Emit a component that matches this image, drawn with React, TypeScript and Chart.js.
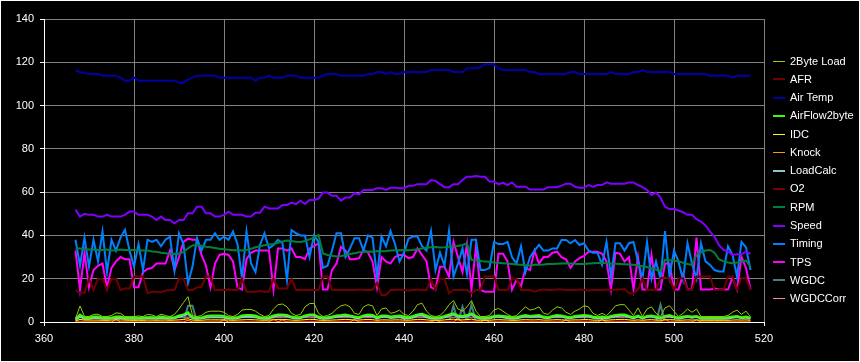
import React, { useEffect, useRef } from "react";
import { Chart, registerables } from "chart.js";

Chart.register(...registerables);

const seconds = [
  367, 368, 369, 370, 371, 372, 373, 374, 375, 376,
  377, 378, 379, 380, 381, 382, 383, 384, 385, 386,
  387, 388, 389, 390, 391, 392, 393, 394, 395, 396,
  397, 398, 399, 400, 401, 402, 403, 404, 405, 406,
  407, 408, 409, 410, 411, 412, 413, 414, 415, 416,
  417, 418, 419, 420, 421, 422, 423, 424, 425, 426,
  427, 428, 429, 430, 431, 432, 433, 434, 435, 436,
  437, 438, 439, 440, 441, 442, 443, 444, 445, 446,
  447, 448, 449, 450, 451, 452, 453, 454, 455, 456,
  457, 458, 459, 460, 461, 462, 463, 464, 465, 466,
  467, 468, 469, 470, 471, 472, 473, 474, 475, 476,
  477, 478, 479, 480, 481, 482, 483, 484, 485, 486,
  487, 488, 489, 490, 491, 492, 493, 494, 495, 496,
  497, 498, 499, 500, 501, 502, 503, 504, 505, 506,
  507, 508, 509, 510, 511, 512, 513, 514, 515, 516,
  517,
];

const load2Byte = [
  1.5, 7.4, 2.5, 2.5, 3.5, 3.6, 2.5, 2.5, 3, 4.2,
  4, 2.5, 2.5, 2.5, 2.8, 2.5, 3.5, 3.2, 2.5, 3.6,
  3, 2.5, 3.5, 6, 9, 11.7, 3, 2.5, 3, 4.5,
  5, 5, 5, 4.5, 3, 2.5, 3.5, 5.5, 5.8, 5.8,
  5, 3.5, 2.5, 3, 6, 8, 8.3, 7, 4, 3,
  3.5, 7, 8.5, 8.6, 4, 2.5, 3, 4, 6, 7.5,
  8, 7, 4, 3.5, 7, 8, 7.5, 3, 6, 6.5,
  4, 4.5, 5.5, 3.5, 3, 5, 8, 8.7, 5, 3,
  2.5, 3, 5, 8, 9.9, 6, 5, 7, 9.9, 5,
  2.5, 2.5, 3, 5.5, 6.3, 5, 3.5, 2.5, 3, 5,
  7, 5.5, 6, 7, 4, 3.5, 5.5, 7, 6.5, 4.5,
  3.5, 5, 6, 7.5, 7, 4, 3, 4, 3, 5,
  7.5, 8, 8, 5.5, 3, 6.5, 2.5, 6, 7, 4,
  2.5, 6.5, 7.5, 5, 2.5, 4, 6, 4.5, 6, 2.5,
  2.5, 2.5, 2.5, 2.5, 2.5, 3, 4.5, 5.5, 3.5, 5,
  2.5,
];

const afr = [
  14.5, 13.5, 13.5, 20, 14.8, 20, 20, 14.8, 20, 20,
  14.8, 15.5, 15.5, 21, 21, 21, 13.3, 14, 14, 13.8,
  14.5, 14.8, 14.8, 20, 20, 14.8, 14.8, 16, 16.3, 21,
  21, 14.8, 14.8, 14.8, 15, 14.8, 14.8, 20, 14, 14,
  14, 14.3, 14, 14, 20, 15.5, 15.5, 15.5, 20, 14.8,
  14.8, 14.8, 14.8, 14.8, 14.8, 21, 21, 14.8, 14.8, 14.8,
  14.8, 14.8, 14.8, 15, 14.8, 14.8, 14.8, 18, 12.5, 12.5,
  14.8, 14.8, 15, 14.8, 14.6, 14.8, 15, 14.8, 14.8, 20,
  14.8, 20, 20, 13.3, 14.8, 14.8, 14.8, 14.8, 13.3, 14.8,
  14.8, 21, 21, 21, 14.8, 14.8, 14.8, 20, 20, 14.8,
  14.8, 14.8, 14, 14.8, 15, 14.8, 14.8, 15, 15, 14.8,
  14.8, 14.8, 15, 14.8, 14.6, 14.8, 14.8, 14.8, 15, 14.8,
  15, 15, 15.2, 13.3, 13.3, 15, 20.2, 14.8, 14.8, 14.8,
  20.2, 20.5, 20, 14.8, 20.2, 20.2, 14.8, 14.8, 21, 21,
  21, 21, 14.8, 14.8, 14.8, 21, 21, 14.8, 20.2, 20.2,
  14.8,
];

const airTemp = [
  116.4, 115.5, 115, 114.6, 114.6, 114.6, 113.8, 113.8, 113.8, 113.8,
  112.9, 111.5, 111.5, 112.9, 111.5, 111.5, 111.5, 111.5, 111.5, 111.5,
  111.5, 111.5, 111.5, 110.6, 110.6, 112, 112.9, 113.8, 113.8, 113.8,
  113.8, 113.8, 112.9, 112.9, 112.9, 112.9, 112.9, 112.9, 112.9, 112.9,
  111.5, 112.9, 112.9, 113.8, 112.9, 112.9, 112.9, 113.8, 113.8, 113.8,
  112.9, 112.9, 112.9, 112.9, 112.9, 113.8, 114.6, 114.6, 114.6, 113.8,
  113.8, 113.8, 113.8, 113.8, 113.8, 114.6, 114.6, 115.5, 115.5, 114.6,
  115.5, 114.6, 114.6, 115.5, 115.5, 115.5, 115.5, 115.5, 115.5, 116.4,
  116.4, 116.4, 116.4, 116.4, 115.5, 115.5, 115.5, 117.2, 117.2, 117.2,
  117.7, 119.1, 119.1, 119.1, 117.2, 116.4, 116.4, 116.4, 116.4, 116.4,
  116.4, 115.5, 115.5, 114.6, 114.6, 114.6, 114.6, 114.6, 114.6, 114.6,
  115.5, 115.5, 114.6, 114.6, 114.6, 114.6, 114.6, 114.6, 114.6, 115.5,
  114.6, 114.6, 114.6, 114.6, 115.5, 115.5, 116.4, 115.5, 115.5, 115.5,
  115.5, 115.5, 115.5, 114.6, 114.6, 114.6, 114.6, 114.6, 114.6, 114.6,
  114.6, 113.8, 113.8, 113.8, 113.8, 113.8, 113, 113.8, 113.8, 113.8,
  113.8,
];

const airFlow2Byte = [
  1.5, 3.5, 2, 2, 2.5, 2.5, 2, 2, 2, 2.5,
  2.5, 2, 2, 2, 2, 2, 2.2, 2.2, 2, 2.5,
  2.2, 2, 2.2, 3, 3.5, 4.5, 2.2, 2, 2, 2.8,
  3, 3, 3, 2.8, 2.2, 2, 2.2, 3, 3.2, 3.2,
  3, 2.2, 2, 2.2, 3, 3.5, 3.5, 3.2, 2.5, 2.2,
  2.2, 3, 3.5, 3.5, 2.5, 2, 2.2, 2.5, 3, 3.2,
  3.5, 3, 2.5, 2.2, 3, 3.5, 3.2, 2.2, 3, 3,
  2.5, 2.8, 3, 2.5, 2.2, 2.8, 3.5, 3.8, 3, 2.2,
  2, 2.2, 2.8, 3.5, 4, 3, 2.8, 3.2, 4, 2.8,
  2, 2, 2.2, 2.8, 3, 2.8, 2.5, 2, 2.2, 2.8,
  3.2, 2.8, 3, 3.2, 2.5, 2.2, 2.8, 3.2, 3, 2.5,
  2.2, 2.8, 3, 3.2, 3, 2.5, 2.2, 2.5, 2.2, 2.8,
  3.2, 3.5, 3.5, 2.8, 2.2, 3, 2, 2.8, 3, 2.5,
  2, 2.8, 3.2, 2.5, 2, 2.5, 2.8, 2.5, 2.8, 2,
  2, 2, 2, 2, 2, 2.2, 2.5, 2.8, 2.2, 2.5,
  2,
];

const idc = [
  0.5, 1.2, 0.9, 0.9, 0.9, 0.9, 0.8, 0.8, 0.9, 1,
  1, 0.9, 0.8, 0.8, 0.8, 0.8, 0.9, 0.9, 0.8, 0.9,
  0.9, 0.8, 0.9, 1, 1.2, 1.5, 0.9, 0.8, 0.8, 1,
  1, 1, 1, 1, 0.9, 0.8, 0.9, 1, 1.1, 1.1,
  1, 0.9, 0.8, 0.9, 1, 1.2, 1.2, 1.1, 0.9, 0.8,
  0.9, 1.1, 1.2, 1.2, 0.9, 0.8, 0.8, 0.9, 1, 1.1,
  1.2, 1.1, 0.9, 0.9, 1.1, 1.2, 1.1, 0.8, 1, 1,
  0.9, 1, 1, 0.9, 0.8, 1, 1.2, 1.2, 1, 0.8,
  0.8, 0.8, 1, 1.2, 1.3, 1, 1, 1.1, 1.3, 0.9,
  0.8, 0.8, 0.8, 1, 1.1, 1, 0.9, 0.8, 0.8, 1,
  1.1, 1, 1, 1.1, 0.9, 0.9, 1, 1.1, 1, 0.9,
  0.9, 1, 1, 1.1, 1.1, 0.9, 0.8, 0.9, 0.8, 1,
  1.1, 1.2, 1.2, 1, 0.8, 1, 0.8, 1, 1.1, 0.9,
  0.8, 1, 1.1, 1, 0.8, 0.9, 1, 0.9, 1, 0.8,
  0.8, 0.8, 0.8, 0.8, 0.8, 0.8, 0.9, 1, 0.9, 1,
  0.8,
];

const knock = [
  0, 0, 0, 0, 0, 0, 0, 0, 0, 1.2,
  0, 0, 0, 0, 0, 0, 0, 0, 0, 0,
  0, 0, 0, 0, 0, 0.8, 0, 0, 0, 0,
  0, 0, 0, 1, 0, 0, 0, 0, 0, 0,
  0, 0, 0, 0, 1.5, 0, 1, 0, 0, 0,
  0, 0, 0, 0, 0, 0, 0, 0, 0, 0,
  0, 0, 1.2, 0, 0, 0, 0, 0, 0, 0,
  0, 0, 0, 0, 0, 0, 0, 0, 0, 0,
  1, 0, 0, 0, 0, 1.5, 0, 0, 0, 0,
  0, 1, 0, 0, 0, 0, 0, 0, 0, 0,
  0, 0, 0, 0, 0, 0, 0, 0, 0, 1,
  0, 0, 0, 0, 0, 0, 0, 1.2, 0, 0,
  0, 0, 0, 0, 0, 0, 0, 0, 0, 0,
  0, 1.5, 0, 0, 0, 0, 0, 0, 1, 0,
  0, 0, 0, 0, 0, 0, 0, 0, 0, 0,
  0,
];

const loadCalc = [
  1, 2.5, 1.5, 1.5, 1.8, 1.8, 1.5, 1.5, 1.6, 1.9,
  1.9, 1.5, 1.5, 1.5, 1.6, 1.5, 1.7, 1.7, 1.5, 1.8,
  1.6, 1.5, 1.7, 2.4, 3, 3.8, 1.7, 1.5, 1.6, 2.1,
  2.2, 2.2, 2.2, 2.1, 1.6, 1.5, 1.7, 2.3, 2.4, 2.4,
  2.2, 1.7, 1.5, 1.6, 2.4, 2.9, 3, 2.7, 1.9, 1.6,
  1.7, 2.6, 3, 3, 1.9, 1.5, 1.6, 1.9, 2.4, 2.7,
  2.9, 2.6, 1.9, 1.7, 2.6, 2.9, 2.7, 1.6, 2.4, 2.5,
  1.9, 2.1, 2.3, 1.7, 1.6, 2.1, 2.9, 3.1, 2.2, 1.6,
  1.5, 1.6, 2.2, 2.9, 3.4, 2.4, 2.2, 2.6, 3.4, 2.2,
  1.5, 1.5, 1.6, 2.3, 2.5, 2.2, 1.7, 1.5, 1.6, 2.2,
  2.6, 2.3, 2.4, 2.6, 1.9, 1.7, 2.3, 2.6, 2.5, 2,
  1.7, 2.2, 2.4, 2.7, 2.6, 1.9, 1.6, 1.9, 1.6, 2.2,
  2.7, 2.9, 2.9, 2.3, 1.6, 2.5, 1.5, 2.4, 2.6, 1.9,
  1.5, 2.5, 2.7, 2.2, 1.5, 1.9, 2.4, 2, 2.4, 1.5,
  1.5, 1.5, 1.5, 1.5, 1.5, 1.6, 2, 2.3, 1.7, 2.1,
  1.5,
];

const o2 = [
  0.3, 0.5, 0.4, 0.4, 0.5, 0.4, 0.4, 0.5, 0.4, 0.4,
  0.5, 0.4, 0.4, 0.4, 0.4, 0.5, 0.4, 0.4, 0.4, 0.4,
  0.4, 0.4, 0.5, 0.4, 0.6, 0.8, 0.5, 0.4, 0.4, 0.4,
  0.4, 0.4, 0.5, 0.4, 0.4, 0.4, 0.4, 0.5, 0.4, 0.4,
  0.4, 0.4, 0.4, 0.4, 0.5, 0.6, 0.6, 0.5, 0.4, 0.4,
  0.4, 0.5, 0.6, 0.6, 0.4, 0.4, 0.4, 0.4, 0.5, 0.5,
  0.6, 0.5, 0.4, 0.4, 0.5, 0.6, 0.5, 0.4, 0.5, 0.5,
  0.4, 0.4, 0.5, 0.4, 0.4, 0.5, 0.6, 0.6, 0.5, 0.4,
  0.4, 0.4, 0.5, 0.6, 0.7, 0.5, 0.5, 0.6, 0.7, 0.4,
  0.4, 0.4, 0.4, 0.5, 0.5, 0.5, 0.4, 0.4, 0.4, 0.5,
  0.5, 0.5, 0.5, 0.5, 0.4, 0.4, 0.5, 0.5, 0.5, 0.4,
  0.4, 0.5, 0.5, 0.6, 0.5, 0.4, 0.4, 0.4, 0.4, 0.5,
  0.5, 0.6, 0.6, 0.5, 0.4, 0.5, 0.4, 0.5, 0.5, 0.4,
  0.4, 0.5, 0.6, 0.5, 0.4, 0.4, 0.5, 0.4, 0.5, 0.4,
  0.4, 0.4, 0.4, 0.4, 0.4, 0.4, 0.4, 0.5, 0.4, 0.5,
  0.4,
];

const rpm = [
  34, 34, 33.6, 33.5, 33.5, 33.3, 33.3, 33.5, 33, 33.2,
  33.5, 33.3, 33.3, 33.3, 33.2, 33, 33, 32.6, 32.5, 32,
  31.8, 31.5, 31.4, 31.5, 32.4, 34, 35.4, 35.6, 35.2, 34.8,
  34.5, 34.2, 33.8, 33.6, 33.4, 33.2, 33.2, 33, 33.3, 33.8,
  34.5, 35, 35.5, 35.8, 36, 36.6, 37.2, 37.6, 37.4, 37.1,
  37, 37.4, 38.2, 39, 40.2, 31.7, 31, 30.6, 30.3, 30.5,
  31, 31.4, 31.8, 32.2, 32.5, 32.6, 32.5, 32.8, 32.7, 32.8,
  33, 33.1, 33.2, 33.3, 33.2, 33.3, 33.6, 34, 34.3, 34.5,
  34.6, 34.4, 34.5, 34.8, 35, 35.1, 35.6, 36.4, 28.7, 28.5,
  28.2, 27.9, 27.8, 27.5, 27.4, 27.2, 27, 26.8, 26.6, 26.4,
  26.2, 26, 26.4, 26.5, 26.6, 26.8, 26.8, 26.9, 27, 27.1,
  27, 26.9, 26.8, 26.8, 27, 27.2, 27.3, 27.4, 27.2, 27,
  26.9, 26.8, 26.7, 26.6, 26.4, 26.2, 25.8, 25.4, 24.8, 24.2,
  23.4, 28.7, 28.5, 28.3, 28, 27.4, 26.8, 26.4, 31, 32.2,
  33, 33.3, 32, 29, 28, 27.5, 27.1, 27.5, 28, 28.4,
  25.3,
];

const speed = [
  52, 48.7, 50, 49.5, 49.5, 48.7, 48.7, 49.5, 48.7, 48.7,
  48.7, 49.5, 51, 51, 49.5, 49.5, 49.5, 48.7, 47.1, 48.7,
  47.1, 47.1, 45.6, 47.1, 47.1, 50.2, 50.2, 53.3, 53.3, 50.2,
  50.2, 48.7, 48.7, 49.5, 51, 49.5, 49.5, 49.5, 48.7, 48.7,
  50.5, 50.5, 53.3, 52.5, 52.5, 52.5, 54.1, 54.1, 55.2, 54.5,
  56, 54.5, 56.4, 56.4, 57, 59.8, 59.8, 58.3, 58.3, 56.1,
  57.5, 57.5, 59.5, 59, 61, 61, 61, 61.8, 61.8, 61,
  62, 62, 61.8, 61.8, 62.9, 62.9, 63.7, 63.7, 63.7, 65.6,
  65.2, 63.7, 62.3, 62.3, 63.7, 63.7, 65.6, 67.1, 67.1, 67.5,
  67.1, 67.1, 64.9, 64.9, 63.7, 64.3, 63.3, 64.5, 62.5, 62.5,
  62.5, 61.2, 61.2, 61.2, 61.2, 62.3, 62.3, 62.3, 63, 63.9,
  63.9, 62.5, 62, 62, 63.3, 62.5, 63.3, 63.3, 64.5, 63.9,
  63.9, 63.9, 63.9, 64.5, 64.5, 63.3, 62.3, 61, 58.7, 59.8,
  57.5, 53.3, 52.2, 52.2, 51.5, 50.7, 49.5, 49.5, 47.5, 46.4,
  44.6, 41.8, 39.4, 35.5, 33.3, 32.5, 31, 31.3, 31.3, 32.5,
  31.5,
];

const timing = [
  38, 26, 39, 25.6, 38, 28, 41.8, 23, 38, 33,
  39, 42.5, 33, 25.6, 36, 24, 38, 37, 38, 35,
  38, 39.4, 24, 41, 36, 17.9, 25.6, 38.7, 33, 38,
  38, 41, 38, 39.4, 38, 41.8, 36, 20.2, 41.8, 27,
  23, 35.6, 41, 34, 35.6, 38, 36.4, 19.4, 42.5, 41,
  40, 40, 30, 40, 37, 25, 26, 33, 41, 41,
  30, 34, 38.7, 38.7, 33, 40, 39, 21, 39.5, 35,
  42, 36, 28, 32, 38.5, 39.5, 39.5, 35, 33, 42,
  24, 32, 26, 42, 21, 27, 34, 22, 38, 38,
  24, 24, 25, 37, 36, 36, 37, 30, 27, 35,
  23, 30, 33, 35.6, 33, 33, 34, 34, 37.9, 37.9,
  36.4, 37.9, 35.6, 36.4, 33, 32, 32, 26.4, 37, 21,
  36.4, 36.4, 33, 36.4, 37, 28, 20, 37, 20, 28,
  20, 42, 21, 33, 28, 19.4, 36.4, 27, 20, 36.4,
  28, 26.4, 24, 23.3, 23.3, 35, 31, 21, 37, 34.5,
  24,
];

const tps = [
  33, 15, 32, 16, 24, 26, 27, 16, 25, 28,
  30, 29, 29, 16, 16, 23, 24.5, 25, 27, 27,
  27, 33, 24, 30, 37, 38.5, 38, 38, 31, 26,
  16, 27, 31, 31.5, 31, 28, 16, 15, 29, 32,
  33, 33, 33, 33, 15, 34, 34, 33, 34, 30,
  30, 29, 34, 35, 36.4, 15, 15, 24, 27, 34.8,
  33, 29, 29, 29.5, 33.3, 32, 28, 16, 30, 28,
  27, 30, 31, 31, 29.5, 30, 34, 31, 28, 16,
  15, 25.5, 25.5, 21, 37, 30, 23, 36, 15, 35,
  14.8, 14, 14, 14, 31.5, 31.5, 28, 15, 19.4, 16.5,
  25, 24, 33, 27, 30, 30, 32, 32.5, 30, 29,
  25, 28, 29.5, 30.5, 32.5, 32.5, 32.5, 31.5, 28, 15,
  32, 31.5, 28, 30, 15, 30, 15, 15, 31, 15,
  15, 27, 27, 15, 15, 22, 15, 15, 39, 15,
  15, 15, 15.5, 15, 15, 15, 20.5, 15, 30, 25,
  15,
];

const wgdc = [
  0, 0, 0, 0, 0, 0, 0, 0, 0, 0,
  0, 0, 0, 0, 0, 0, 0, 0, 0, 0,
  0, 0, 0, 0, 0, 7.5, 7.5, 0, 0, 0,
  0, 0, 0, 0, 0, 0, 0, 0, 0, 0,
  0, 0, 0, 0, 0, 0, 0, 0, 0, 0,
  0, 0, 0, 0, 0, 0, 0, 0, 0, 0,
  0, 0, 0, 0, 0, 0, 0, 0, 0, 0,
  0, 0, 0, 0, 0, 0, 0, 0, 0, 0,
  0, 0, 0, 0, 7.5, 0, 7, 0, 8, 0,
  0, 0, 0, 0, 0, 0, 0, 0, 0, 0,
  0, 0, 0, 0, 0, 0, 0, 0, 0, 0,
  0, 0, 0, 0, 0, 0, 0, 0, 0, 0,
  0, 0, 0, 0, 0, 0, 0, 0, 0, 0,
  8, 0, 0, 0, 0, 0, 0, 0, 0, 0,
  0, 0, 0, 0, 0, 0, 0, 0, 0, 0,
  0,
];

const wgdcCorr = [
  2.2, 2.2, 2.2, 2.2, 2.2, 2.2, 2.2, 2.2, 2.2, 2.2,
  2.2, 2.2, 2.2, 2.2, 2.2, 2.2, 2.2, 2.2, 2.2, 2.2,
  2.2, 2.2, 2.2, 2.2, 2.2, 2.2, 2.2, 2.2, 2.2, 2.2,
  2.2, 2.2, 2.2, 2.2, 2.2, 2.2, 2.2, 2.2, 2.2, 2.2,
  2.2, 2.2, 2.2, 2.2, 2.2, 2.2, 2.2, 2.2, 2.2, 2.2,
  2.2, 2.2, 2.2, 2.2, 2.2, 2.2, 2.2, 2.2, 2.2, 2.2,
  2.2, 2.2, 2.2, 2.2, 2.2, 2.2, 2.2, 2.2, 2.2, 2.2,
  2.2, 2.2, 2.2, 2.2, 2.2, 2.2, 2.2, 2.2, 2.2, 2.2,
  2.2, 2.2, 2.2, 2.2, 2.2, 2.2, 2.2, 2.2, 2.2, 2.2,
  2.2, 2.2, 2.2, 2.2, 2.2, 2.2, 2.2, 2.2, 2.2, 2.2,
  2.2, 2.2, 2.2, 2.2, 2.2, 2.2, 2.2, 2.2, 2.2, 2.2,
  2.2, 2.2, 2.2, 2.2, 2.2, 2.2, 2.2, 2.2, 2.2, 2.2,
  2.2, 2.2, 2.2, 2.2, 2.2, 2.2, 2.2, 2.2, 2.2, 2.2,
  2.2, 2.2, 2.2, 2.2, 2.2, 2.2, 2.2, 2.2, 2.2, 2.2,
  2.2, 2.2, 2.2, 2.2, 2.2, 2.2, 2.2, 2.2, 2.2, 2.2,
  2.2,
];

const seriesNames = [
  "2Byte Load", "AFR", "Air Temp", "AirFlow2byte", "IDC", "Knock", "LoadCalc",
  "O2", "RPM", "Speed", "Timing", "TPS", "WGDC", "WGDCCorr",
];
const seriesValues = [
  load2Byte, afr, airTemp, airFlow2Byte, idc, knock, loadCalc,
  o2, rpm, speed, timing, tps, wgdc, wgdcCorr,
];
const seriesColors = [
  "#99cc00", "#700000", "#0000a8", "#33ff00", "#ffff00", "#ff9900", "#88c8c8",
  "#800000", "#008040", "#8000ff", "#0080ff", "#ff00ff", "#408080", "#ff80c0",
];
const seriesWidths = [1, 2, 2, 2, 1, 1, 2, 2, 2, 2, 2, 2, 2, 1];

const xTicks = [360, 380, 400, 420, 440, 460, 480, 500, 520];
const yTicks = [0, 20, 40, 60, 80, 100, 120, 140];

const FONT = '"Liberation Sans", Arial, sans-serif';

const sideLegend = {
  id: "sideLegend",
  afterDraw(chart: any) {
    const ctx = chart.ctx;
    ctx.save();
    ctx.font = `11px ${FONT}`;
    ctx.textBaseline = "middle";
    ctx.textAlign = "left";
    chart.data.datasets.forEach((ds: any, i: number) => {
      const yc = 59.5 + i * 18.28;
      const w = ds.borderWidth;
      const y = w % 2 === 1 ? Math.round(yc) + 0.5 : Math.round(yc + 0.5);
      ctx.strokeStyle = ds.borderColor;
      ctx.lineWidth = w;
      ctx.beginPath();
      ctx.moveTo(772, y);
      ctx.lineTo(784, y);
      ctx.stroke();
      ctx.fillStyle = "#ffffff";
      ctx.fillText(ds.label, 789, Math.round(yc) + 1);
    });
    ctx.restore();
  },
};

export default function App() {
  const canvasRef = useRef<HTMLCanvasElement | null>(null);

  useEffect(() => {
    const canvas = canvasRef.current;
    if (!canvas) return;
    const datasets = seriesNames.map((name, si) => ({
      label: name,
      data: seconds.map((t, i) => ({ x: t, y: seriesValues[si][i] })),
      borderColor: seriesColors[si],
      backgroundColor: seriesColors[si],
      borderWidth: seriesWidths[si],
      pointRadius: 0,
      tension: 0,
      fill: false,
    }));
    const chart = new Chart(canvas, {
      type: "line",
      data: { datasets },
      options: {
        animation: false,
        responsive: false,
        maintainAspectRatio: false,
        events: [],
        layout: { padding: { top: 18, right: 95, left: 0, bottom: 0 } },
        plugins: {
          legend: { display: false },
          tooltip: { enabled: false },
        },
        scales: {
          x: {
            type: "linear",
            min: 360,
            max: 520,
            afterBuildTicks: (scale: any) => {
              scale.ticks = xTicks.map((v) => ({ value: v }));
            },
            afterFit: (scale: any) => {
              scale.height = 39;
            },
            ticks: {
              color: "#ffffff",
              font: { family: FONT, size: 11 },
              padding: 6,
              maxRotation: 0,
              autoSkip: false,
            },
            grid: { color: "#808080", tickColor: "#ffffff", tickLength: 4, lineWidth: 1 },
            border: { color: "#ffffff", width: 1 },
          },
          y: {
            type: "linear",
            min: 0,
            max: 140,
            afterBuildTicks: (scale: any) => {
              scale.ticks = yTicks.map((v) => ({ value: v }));
            },
            afterFit: (scale: any) => {
              scale.width = 43;
            },
            ticks: {
              color: "#ffffff",
              font: { family: FONT, size: 11 },
              padding: 6,
              autoSkip: false,
            },
            grid: { color: "#808080", tickColor: "#ffffff", tickLength: 4, lineWidth: 1 },
            border: { color: "#ffffff", width: 1 },
          },
        },
      },
      plugins: [sideLegend],
    } as any);
    return () => chart.destroy();
  }, []);

  return (
    <div
      style={{
        position: "fixed",
        left: 0,
        top: 0,
        width: 860,
        height: 362,
        boxSizing: "border-box",
        border: "1px solid #ffffff",
        background: "#000000",
      }}
    >
      <canvas ref={canvasRef} width={858} height={360} style={{ display: "block", width: 858, height: 360 }} />
    </div>
  );
}
